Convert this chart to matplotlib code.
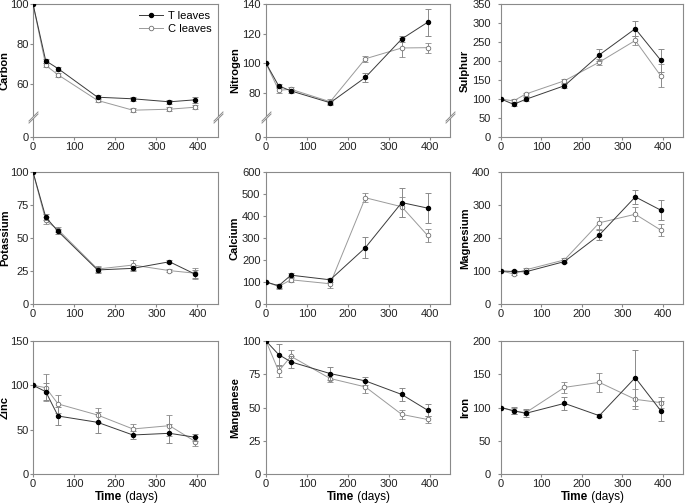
import numpy as np
import matplotlib
matplotlib.use('Agg')
import matplotlib.pyplot as plt
from matplotlib.lines import Line2D

plt.rcParams['font.family'] = ['Liberation Sans', 'DejaVu Sans']

# sampling times (days)
days = [0, 31, 61, 157, 243, 332, 395]

# values: T leaves / C leaves, with error bars
carbon_t = [100, 71.6, 67.7, 53.4, 52.6, 51.1, 52.1]
carbon_t_err = [0, 1.0, 1.0, 1.0, 1.0, 1.0, 1.5]
carbon_c = [100, 69.3, 64.6, 51.8, 46.9, 47.4, 48.4]
carbon_c_err = [0, 1.0, 1.0, 1.0, 1.0, 1.0, 1.0]

nitrogen_t = [100, 84.7, 81.3, 73.3, 90.4, 116.4, 127.6]
nitrogen_t_err = [0, 1.5, 1.5, 1.5, 3.0, 2.3, 9.0]
nitrogen_c = [100, 81.7, 82.4, 74.0, 103.0, 110.3, 110.5]
nitrogen_c_err = [0, 2.0, 1.5, 1.5, 2.0, 6.4, 3.3]

sulphur_t = [100, 86, 99, 135, 216, 285, 202]
sulphur_t_err = [0, 4, 5, 5, 15, 19, 30]
sulphur_c = [100, 95, 113, 148, 197, 254, 161]
sulphur_c_err = [0, 4, 4, 5, 8, 13, 30]

potassium_t = [100, 65.8, 55.0, 25.8, 27.0, 32.0, 22.5]
potassium_t_err = [0, 2.5, 2.0, 2.0, 2.0, 1.0, 3.0]
potassium_c = [100, 63.3, 56.3, 26.5, 29.5, 25.3, 23.3]
potassium_c_err = [0, 2.5, 2.0, 2.5, 3.5, 1.0, 4.0]

calcium_t = [100, 83, 131, 110, 256, 461, 436]
calcium_t_err = [0, 8, 8, 10, 48, 66, 67]
calcium_c = [100, 80, 110, 92, 483, 442, 312]
calcium_c_err = [0, 10, 8, 20, 20, 45, 30]

magnesium_t = [100, 98.5, 97.5, 128.6, 209, 324.6, 284.4]
magnesium_t_err = [0, 5, 5, 5, 14, 22, 30]
magnesium_c = [100, 91.5, 103.5, 133.7, 246, 272, 224]
magnesium_c_err = [0, 5, 5, 5, 18, 22, 18]

zinc_t = [100, 92.9, 65.4, 58.3, 44.0, 45.9, 41.4]
zinc_t_err = [0, 10, 10, 12, 5, 11, 4]
zinc_c = [100, 97.4, 79.0, 66.5, 50.8, 54.5, 36.5]
zinc_c_err = [0, 15, 10, 8, 6, 12, 5]

manganese_t = [100, 89.8, 84.3, 75.5, 70.0, 59.8, 48.0]
manganese_t_err = [0, 8, 4.5, 5, 3, 5, 4.5]
manganese_c = [100, 77.3, 88.5, 71.8, 65.5, 44.8, 41.0]
manganese_c_err = [0, 4, 4.5, 3, 4.5, 3.5, 2.5]

iron_t = [100, 95.2, 91.2, 106.2, 87.7, 144.9, 95.2]
iron_t_err = [0, 5, 6, 10, 2, 42, 15]
iron_c = [100, 94.7, 92.2, 130.3, 137.8, 112.3, 107.3]
iron_c_err = [0, 4, 4, 8, 14, 15, 8]

panels = [
    ('Carbon', carbon_t, carbon_t_err, carbon_c, carbon_c_err, [0, 60, 80, 100], 100, 43),
    ('Nitrogen', nitrogen_t, nitrogen_t_err, nitrogen_c, nitrogen_c_err, [0, 80, 100, 120, 140], 140, 63),
    ('Sulphur', sulphur_t, sulphur_t_err, sulphur_c, sulphur_c_err, [0, 50, 100, 150, 200, 250, 300, 350], 350, None),
    ('Potassium', potassium_t, potassium_t_err, potassium_c, potassium_c_err, [0, 25, 50, 75, 100], 100, None),
    ('Calcium', calcium_t, calcium_t_err, calcium_c, calcium_c_err, [0, 100, 200, 300, 400, 500, 600], 600, None),
    ('Magnesium', magnesium_t, magnesium_t_err, magnesium_c, magnesium_c_err, [0, 100, 200, 300, 400], 400, None),
    ('Zinc', zinc_t, zinc_t_err, zinc_c, zinc_c_err, [0, 50, 100, 150], 150, None),
    ('Manganese', manganese_t, manganese_t_err, manganese_c, manganese_c_err, [0, 25, 50, 75, 100], 100, None),
    ('Iron', iron_t, iron_t_err, iron_c, iron_c_err, [0, 50, 100, 150, 200], 200, None),
]

W, H = 685, 503
col_left = [33, 266, 501]
col_width = [185, 184, 182]
row_top = [4, 172, 341]
row_bottom = [137, 304, 474]
ylabel_x = [10, 240, 470]   # pixel x of the y label's right edge, per column
ytick_pad = [1, 2, 5.5]

spine_col = '#8a8a8a'
t_col = '#3a3a3a'
c_col = '#9a9a9a'
err_col = '#8a8a8a'

fig = plt.figure(figsize=(W / 100, H / 100), dpi=100)


def broken_scale(B, k):
    def forward(y):
        y = np.asarray(y, dtype=float)
        return np.where(y >= B, y, B - (B - y) * k)

    def inverse(f):
        f = np.asarray(f, dtype=float)
        return np.where(f >= B, f, B - (B - f) / k)
    return forward, inverse


for i, (name, t, te, c, ce, ticks, ymax, brk) in enumerate(panels):
    r, col = divmod(i, 3)
    h_px = row_bottom[r] - row_top[r]
    rect = [col_left[col] / W, (H - row_bottom[r]) / H,
            col_width[col] / W, h_px / H]
    ax = fig.add_axes(rect)

    if brk is not None:
        # compress the part of the axis below the break
        per_px = (ymax - brk) / (118 - row_top[r])
        k = 19 * per_px / brk
        ax.set_yscale('function', functions=broken_scale(brk, k))

    ax.errorbar(days, t, yerr=te, color=t_col, lw=0.7, marker='o', ms=2.9,
                mfc='black', mec='black', ecolor=err_col, elinewidth=0.7,
                capsize=2, capthick=0.7, zorder=3)
    ax.errorbar(days, c, yerr=ce, color=c_col, lw=0.7, marker='o', ms=3.3,
                mfc='white', mec='#707070', mew=0.6, ecolor=err_col,
                elinewidth=0.7, capsize=2, capthick=0.7, zorder=2)

    ax.set_xlim(0, 450)
    ax.set_ylim(0, ymax)
    ax.set_xticks([0, 100, 200, 300, 400])
    ax.set_yticks(ticks)
    ax.minorticks_off()
    ax.set_yticklabels([str(v) for v in ticks])

    for s in ax.spines.values():
        s.set_color(spine_col)
        s.set_linewidth(0.8)
    ax.tick_params(direction='out', length=2, width=0.8, color=spine_col,
                   labelsize=8, pad=1.5, labelcolor='#222222')
    ax.tick_params(axis='y', pad=ytick_pad[col])
    ax.set_ylabel(name, fontsize=8, fontweight='bold')
    ax.yaxis.set_label_coords((ylabel_x[col] - col_left[col]) / col_width[col], 0.5)

    if brk is not None:
        tr = ax.get_yaxis_transform()
        g = 2.2 * per_px
        for xa in (0, 1):
            ax.plot([xa, xa], [brk - g, brk + g], transform=tr, color='white',
                    lw=2.5, clip_on=False, zorder=5, solid_capstyle='butt')
            ax.plot([xa, xa], [brk - g, brk + g], transform=tr, ls='none',
                    marker=[(-1, -1), (1, 1)], ms=7, mew=0.7, color=spine_col,
                    clip_on=False, zorder=6)

    if r == 2:
        ty = -(497 - row_bottom[r]) / h_px
        ax.text(0.48, ty, 'Time', transform=ax.transAxes, ha='right',
                va='center', fontsize=8.5, fontweight='bold')
        ax.text(0.48, ty, ' (days)', transform=ax.transAxes, ha='left',
                va='center', fontsize=8.5)

    if i == 0:
        handles = [
            Line2D([], [], color=t_col, lw=0.7, marker='o', ms=2.9,
                   mfc='black', mec='black'),
            Line2D([], [], color=c_col, lw=0.7, marker='o', ms=3.3,
                   mfc='white', mec='#707070', mew=0.6),
        ]
        ax.legend(handles, ['T leaves', 'C leaves'], loc='upper right',
                  frameon=False, fontsize=8, handlelength=2.2,
                  borderaxespad=0.2, handletextpad=0.4, labelspacing=0.3)

fig.savefig('out.png', dpi=100)
